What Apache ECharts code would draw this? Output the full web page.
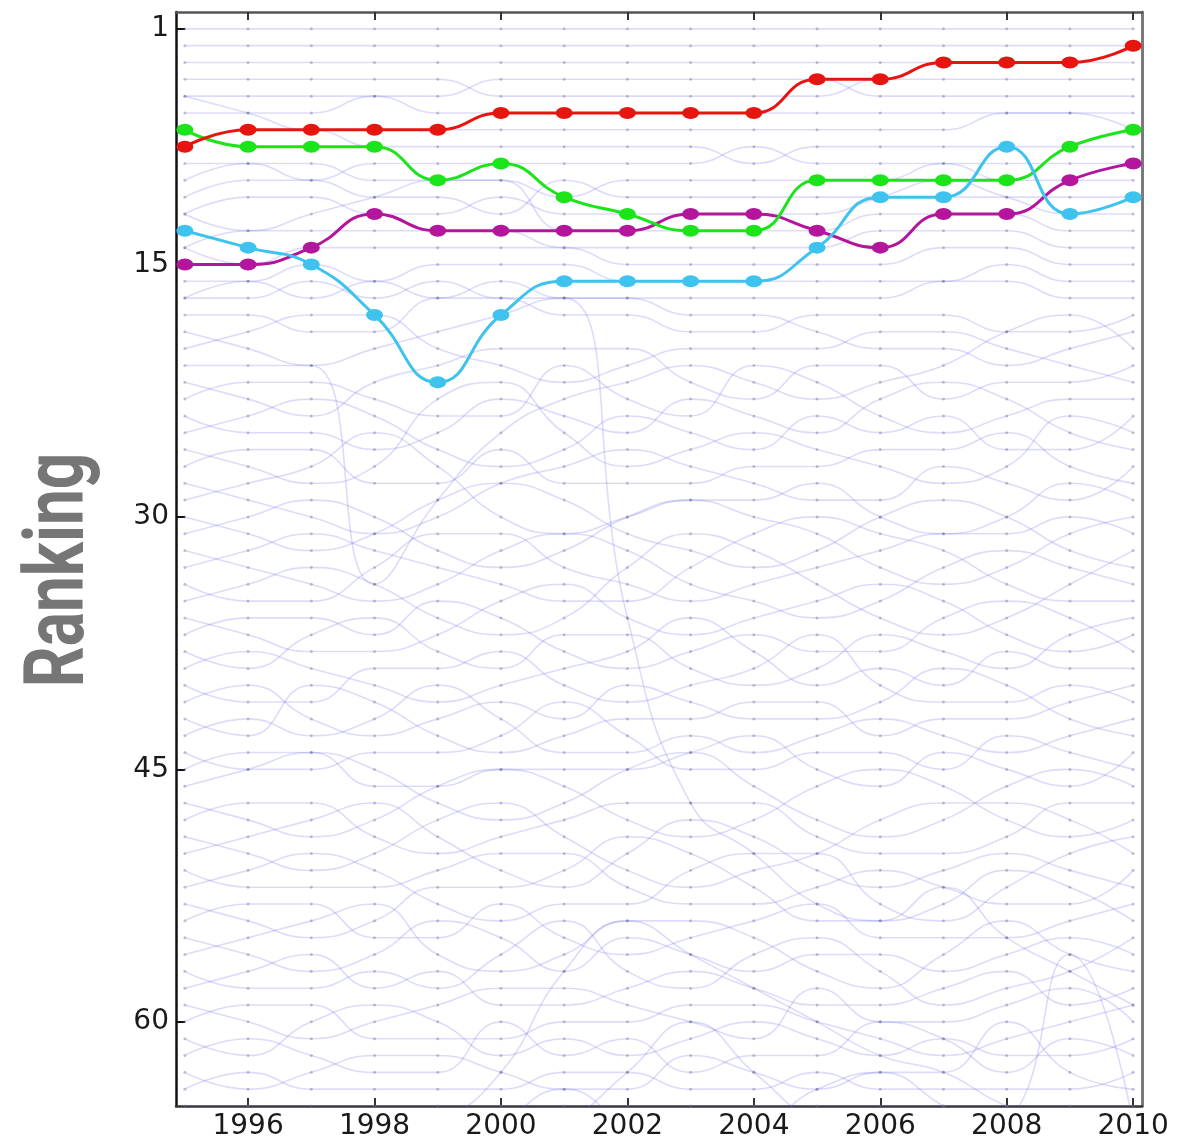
<!DOCTYPE html>
<html>
<head>
<meta charset="utf-8">
<title>Ranking</title>
<script src="https://cdn.jsdelivr.net/npm/echarts@6/dist/echarts.min.js"></script>
<style>
  html, body { margin: 0; padding: 0; background: #fff; }
  #chart { width: 1188px; height: 1139px; }
</style>
</head>
<body>
<div id="chart"></div>
<script>
// years on the x axis
var years = [1995, 1996, 1997, 1998, 1999, 2000, 2001, 2002, 2003, 2004, 2005, 2006, 2007, 2008, 2009, 2010];
var yearTicks = [1996, 1998, 2000, 2002, 2004, 2006, 2008, 2010];
var rankTicks = [1, 15, 30, 45, 60];

// highlighted entities (rank per year)
var redRank     = [8, 7, 7, 7, 7, 6, 6, 6, 6, 6, 4, 4, 3, 3, 3, 2];
var greenRank   = [7, 8, 8, 8, 10, 9, 11, 12, 13, 13, 10, 10, 10, 10, 8, 7];
var magentaRank = [15, 15, 14, 12, 13, 13, 13, 13, 12, 12, 13, 14, 12, 12, 10, 9];
var cyanRank    = [13, 14, 15, 18, 22, 18, 16, 16, 16, 16, 14, 11, 11, 8, 12, 11];

// all the other entities, faint in the background
var others = [
  [1,1,1,1,1,1,1,1,1,1,1,1,1,1,1,1],
  [2,2,2,2,2,2,2,2,2,2,2,2,2,2,2,2],
  [3,3,3,3,3,3,3,3,3,3,3,3,3,3,3,3],
  [4,4,4,4,4,5,5,5,5,5,5,4,4,4,4,4],
  [5,5,5,5,5,4,4,4,4,4,4,5,5,5,5,5],
  [6,6,6,5,6,6,6,6,6,6,6,6,6,6,6,6],
  [5,6,7,7,7,7,7,7,7,7,7,7,7,6,6,7],
  [8,7,7,8,8,8,8,8,8,9,8,8,8,8,8,8],
  [9,9,10,9,9,9,9,9,9,8,9,9,9,9,9,9],
  [10,9,9,10,10,10,11,10,10,10,10,10,9,10,10,10],
  [11,10,10,11,11,12,10,11,11,11,11,11,11,11,11,11],
  [12,11,11,12,12,11,12,12,12,12,12,11,10,11,12,12],
  [12,13,12,11,10,10,13,13,13,13,13,12,12,12,13,13],
  [14,13,13,13,13,13,14,14,14,14,14,13,13,13,14,14],
  [14,15,14,14,14,14,14,15,15,15,15,15,14,14,15,15],
  [16,16,15,16,15,15,15,16,16,16,16,16,16,15,16,16],
  [17,16,17,16,17,16,17,17,17,17,17,17,16,16,17,17],
  [18,18,19,19,17,17,18,18,19,19,18,18,18,19,19,18],
  [19,20,21,20,19,18,17,17,18,18,19,20,20,21,20,19],
  [20,19,18,18,20,21,22,21,20,20,20,19,19,20,21,22],
  [21,21,21,34,29,25,23,22,21,22,23,22,21,19,18,20],
  [22,23,24,22,21,20,20,20,22,23,21,21,23,22,22,21],
  [23,22,22,23,24,24,21,23,24,21,22,24,25,24,23,23],
  [24,25,25,26,25,23,24,25,23,24,25,23,22,23,25,26],
  [25,24,23,24,26,27,26,24,25,26,24,25,24,26,26,24],
  [26,27,28,27,23,22,25,27,26,25,26,27,28,27,24,25],
  [27,26,26,28,28,26,28,28,28,27,27,26,26,25,27,28],
  [28,29,30,31,30,28,27,26,27,28,29,29,27,28,29,27],
  [29,28,27,25,27,30,31,30,29,29,28,30,31,30,28,29],
  [30,31,32,31,29,28,29,31,32,33,32,30,29,30,32,33],
  [31,30,29,30,32,33,32,30,29,30,31,33,34,33,31,30],
  [32,33,34,35,34,32,31,32,34,35,36,35,33,32,33,34],
  [33,32,31,32,33,34,35,35,33,31,30,31,32,34,35,35],
  [34,35,35,33,31,31,33,34,35,34,33,32,31,31,30,31],
  [35,34,33,34,36,37,36,33,31,32,34,36,37,36,34,32],
  [36,37,38,38,37,35,34,36,37,36,35,34,35,37,38,37],
  [37,36,36,37,35,36,38,39,38,37,38,38,36,35,36,38],
  [38,39,37,36,38,39,37,37,39,40,39,37,38,39,37,36],
  [39,38,39,40,41,40,39,38,36,38,40,39,40,38,39,39],
  [40,41,41,39,39,38,40,41,40,39,37,40,41,41,40,41],
  [41,40,42,43,42,41,42,40,41,42,42,41,39,40,42,43],
  [42,43,40,41,43,44,43,42,42,41,41,43,42,42,41,40],
  [43,42,43,42,40,42,44,44,43,44,43,42,43,44,43,42],
  [44,45,45,44,44,43,41,43,45,45,44,44,45,43,44,45],
  [45,44,44,46,46,45,45,45,44,43,45,46,44,45,46,44],
  [46,45,44,45,47,48,47,45,44,46,48,49,48,46,45,46],
  [47,48,49,48,46,45,46,48,49,48,46,45,46,48,49,48],
  [48,47,47,49,50,49,48,47,47,47,49,50,50,49,47,47],
  [49,50,51,50,48,47,49,51,52,51,50,48,47,47,48,50],
  [50,49,48,47,49,51,52,50,48,49,51,52,51,50,51,52],
  [51,52,52,52,51,50,50,52,53,53,52,51,52,53,53,51],
  [52,51,50,51,53,54,53,53,51,50,50,53,54,52,50,49],
  [53,54,55,54,52,52,51,49,50,52,54,54,53,51,52,54],
  [54,53,53,55,55,53,55,56,55,54,53,55,55,55,54,53],
  [55,56,57,56,54,55,57,55,56,57,56,56,57,56,55,56],
  [56,55,54,53,56,57,56,54,54,55,57,58,56,54,56,57],
  [57,58,58,57,58,56,54,57,58,56,55,57,59,58,57,55],
  [58,57,56,58,57,59,59,58,57,58,59,59,58,57,59,58],
  [59,60,61,60,59,58,58,59,60,61,58,60,60,59,58,60],
  [60,59,59,61,61,61,60,60,59,59,60,61,62,61,60,59],
  [61,62,60,59,60,62,61,62,61,60,61,62,61,62,62,61],
  [62,61,62,63,63,60,62,61,63,62,62,60,61,63,61,62],
  [63,64,63,62,62,63,64,64,62,63,64,63,63,60,63,64],
  [64,63,64,64,64,64,63,63,64,64,63,64,64,64,64,63],
  [65,65,65,65,65,65,65,65,65,65,65,65,65,65,65,65],
  [17,17,16,17,16,17,17,36,47,50,53,54,52,55,57,59],
  [67,66,66,67,66,63,57,54,56,58,60,62,63,65,66,67],
  [68,68,67,66,68,66,64,66,67,66,66,66,67,66,56,66],
  [66,67,68,68,67,67,66,63,60,63,66,67,68,68,67,68],
  [69,70,69,68,69,70,68,67,66,66,64,63,65,67,68,66]
];

function pairs (ranks) {
  return years.map(function (y, i) { return [y, ranks[i]] })
}

var series = []

others.forEach(function (row, i) {
  series.push({
    name: 'other' + i,
    type: 'line',
    smooth: 0.5,
    data: pairs(row),
    symbol: 'circle',
    symbolSize: 3,
    silent: true,
    itemStyle: { color: 'rgba(110,110,140,0.4)' },
    lineStyle: { color: 'rgba(105,105,235,0.23)', width: 1.6 },
    z: 1
  })
})

var highlight = [
  { name: 'magenta', data: magentaRank, color: '#b3159d' },
  { name: 'green', data: greenRank, color: '#1be41b' },
  { name: 'cyan', data: cyanRank, color: '#3dc3ee' },
  { name: 'red', data: redRank, color: '#e8140f' }
]

highlight.forEach(function (h, i) {
  series.push({
    name: h.name,
    type: 'line',
    smooth: 0.5,
    data: pairs(h.data),
    symbol: 'circle',
    symbolSize: [17, 12],
    itemStyle: { color: h.color },
    lineStyle: { color: h.color, width: 3 },
    z: 3 + i
  })
})

var myChart = echarts.init(document.getElementById('chart'))
var option = {
  backgroundColor: '#fff',
  animation: false,
  grid: {
    left: 176,
    right: 46,
    top: 12,
    bottom: 33,
    containLabel: false,
    outerBoundsMode: 'none'
  },
  graphic: [
    {
      type: 'text',
      x: 62,
      y: 570,
      rotation: Math.PI / 2,
      scaleY: 1.3,
      style: {
        text: 'Ranking',
        fontSize: 64,
        fontFamily: 'Roboto',
        fontWeight: 'bold',
        fill: '#767676',
        align: 'center',
        verticalAlign: 'middle'
      }
    }
  ],
  xAxis: [
    {
      type: 'value',
      position: 'bottom',
      min: 1994.86,
      max: 2010.14,
      axisLine: { show: true, onZero: false, lineStyle: { color: '#333', width: 2.5 } },
      axisTick: { show: true, inside: true, length: 8, customValues: yearTicks, lineStyle: { color: '#333', width: 2 } },
      axisLabel: {
        customValues: yearTicks,
        margin: 7,
        color: '#1a1a1a',
        fontSize: 28,
        fontFamily: 'DejaVu Sans',
        formatter: function (v) { return String(v) }
      },
      splitLine: { show: false }
    },
    {
      type: 'value',
      position: 'top',
      min: 1994.86,
      max: 2010.14,
      axisLine: { show: true, onZero: false, lineStyle: { color: '#555', width: 2.5 } },
      axisTick: { show: true, inside: true, length: 8, customValues: yearTicks, lineStyle: { color: '#333', width: 2 } },
      axisLabel: { show: false },
      splitLine: { show: false }
    }
  ],
  yAxis: [
    {
      type: 'value',
      position: 'left',
      inverse: true,
      min: 0,
      max: 65,
      axisLine: { show: true, onZero: false, lineStyle: { color: '#111', width: 2.5 } },
      axisTick: { show: true, inside: true, length: 9, customValues: rankTicks, lineStyle: { color: '#111', width: 2 } },
      axisLabel: {
        customValues: rankTicks,
        margin: 7,
        color: '#1a1a1a',
        fontSize: 28,
        fontFamily: 'DejaVu Sans'
      },
      splitLine: { show: false }
    },
    {
      type: 'value',
      position: 'right',
      inverse: true,
      min: 0,
      max: 65,
      axisLine: { show: true, onZero: false, lineStyle: { color: '#7a7a7a', width: 3 } },
      axisTick: { show: false },
      axisLabel: { show: false },
      splitLine: { show: false }
    }
  ],
  series: series
}
myChart.setOption(option)
</script>
</body>
</html>
